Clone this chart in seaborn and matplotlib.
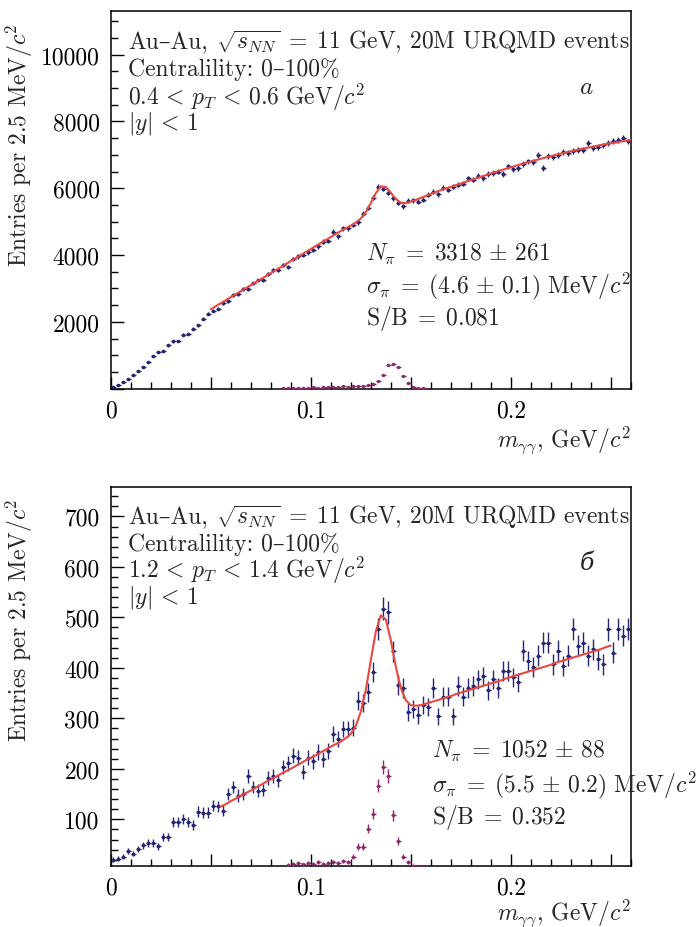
import numpy as np
import pandas as pd
import matplotlib
matplotlib.use("Agg")
import matplotlib.pyplot as plt
from matplotlib.ticker import MultipleLocator, FuncFormatter
from matplotlib.transforms import offset_copy
import seaborn as sns

# ---------------- data ----------------
BIN = 0.0025  # GeV per bin (2.5 MeV)

# panel a: 0.4 < pT < 0.6
top_counts = [
    40, 120, 200, 300, 420, 520, 640, 790, 980, 1100,
    1140, 1300, 1420, 1430, 1620, 1640, 1800, 1900, 2100, 2250,
    2330, 2400, 2560, 2620, 2800, 2830, 2990, 2980, 3150, 3240,
    3260, 3420, 3560, 3540, 3700, 3650, 3880, 3960, 4000, 4080,
    4150, 4260, 4400, 4420, 4700, 4560, 4800, 4800, 4900, 4980,
    5240, 5420, 5720, 6050, 5980, 5860, 5700, 5560, 5460, 5620,
    5640, 5600, 5650, 5800, 5900, 5820, 6020, 5950, 6050, 6100,
    6140, 6300, 6250, 6380, 6300, 6420, 6450, 6500, 6420, 6650,
    6580, 6600, 6720, 6800, 6780, 7000, 6600, 6960, 6920, 7000,
    7080, 7060, 7120, 7150, 7140, 7350, 7200, 7230, 7280, 7360,
    7420, 7450, 7500, 7400,
]
top_fit_start = 0.05
top_fit = [
    2380, 2470, 2560, 2650, 2740, 2830, 2920, 3010, 3100, 3190,
    3280, 3370, 3460, 3550, 3640, 3730, 3820, 3910, 4000, 4090,
    4180, 4270, 4360, 4450, 4540, 4630, 4720, 4805, 4885, 4973,
    5093, 5279, 5552, 5852, 6056, 6035, 5866, 5676, 5565, 5554,
    5595, 5650, 5710, 5770, 5830, 5885, 5940, 5990, 6040, 6090,
    6140, 6190, 6240, 6290, 6340, 6390, 6440, 6490, 6535, 6580,
    6625, 6670, 6715, 6760, 6800, 6840, 6880, 6920, 6960, 7000,
    7035, 7070, 7105, 7140, 7170, 7200, 7230, 7260, 7290, 7320,
    7345, 7370, 7395, 7420, 7445,
]
top_sig_first_bin = 34
top_signal = [
    28, 22, 35, 25, 30, 20, 40, 30, 50, 40,
    60, 50, 70, 60, 80, 70, 90, 120, 140, 240,
    420, 700, 740, 640, 380, 180, 60, 30, 10,
]

# panel b: 1.2 < pT < 1.4
bot_counts = [
    20, 22, 26, 37, 32, 41, 49, 53, 53, 47,
    65, 65, 95, 95, 101, 95, 89, 115, 113, 113,
    127, 126, 117, 150, 164, 147, 150, 186, 164, 157,
    158, 182, 186, 177, 204, 211, 226, 222, 194, 222,
    215, 233, 219, 235, 269, 259, 279, 279, 281, 335,
    331, 352, 392, 477, 517, 510, 433, 366, 360, 313,
    318, 306, 327, 323, 360, 304, 343, 343, 304, 364,
    343, 360, 364, 377, 383, 356, 377, 360, 394, 394,
    381, 371, 434, 414, 401, 424, 450, 450, 407, 434,
    404, 424, 477, 444, 450, 424, 437, 417, 407, 476,
    430, 477, 464, 477,
]
bot_fit_start = 0.055
bot_fit = [
    125, 130, 136, 141, 147, 152, 157, 163, 168, 174,
    179, 184, 190, 195, 200, 206, 211, 217, 222, 227,
    233, 238, 244, 249, 254, 261, 269, 285, 313, 356,
    415, 472, 504, 496, 455, 402, 360, 336, 326, 325,
    326, 329, 332, 335, 338, 341, 344, 348, 351, 354,
    357, 360, 363, 366, 369, 372, 375, 379, 382, 385,
    388, 391, 394, 397, 400, 403, 406, 410, 413, 416,
    419, 422, 425, 428, 431, 434, 437, 441, 444,
]
bot_sig_first_bin = 35
bot_signal = [
    10, 12, 14, 11, 13,
    12, 15, 12, 14, 16, 13, 18, 15,
    26, 46, 46, 81, 111, 166, 204, 186, 108, 57,
    26, 16, 8, 6, 5,
]

panels = [
    dict(counts=top_counts, fit=top_fit, fit_start=top_fit_start,
         sig=top_signal, sig_first=top_sig_first_bin,
         pt=r"$0.4\,<\,p_T\,<\,0.6\ \mathrm{GeV}/c^2$",
         stats=[r"$N_\pi\;=\;3318\,\pm\,261$",
                r"$\sigma_\pi\;=\;(4.6\,\pm\,0.1)\ \mathrm{MeV}/c^2$",
                r"$\mathrm{S/B}\;=\;0.081$"],
         letter="a", ylim=(0, 11300), ymaj=2000, ymin=500),
    dict(counts=bot_counts, fit=bot_fit, fit_start=bot_fit_start,
         sig=bot_signal, sig_first=bot_sig_first_bin,
         pt=r"$1.2\,<\,p_T\,<\,1.4\ \mathrm{GeV}/c^2$",
         stats=[r"$N_\pi\;=\;1052\,\pm\,88$",
                r"$\sigma_\pi\;=\;(5.5\,\pm\,0.2)\ \mathrm{MeV}/c^2$",
                r"$\mathrm{S/B}\;=\;0.352$"],
         letter="б", ylim=(8, 758), ymaj=100, ymin=20),
]

header_a = "Au–Au,"
header_b = r"$\sqrt{s_{NN}}\;=\;11$ GeV, 20M URQMD events"
central = "Centralility: 0–100%"
rap = r"$|y|\,<\,1$"
xlab = r"$m_{\gamma\gamma}$, GeV$/c^2$"
ylab = r"Entries per 2.5 MeV$/c^2$"

# ---------------- style ----------------
sns.set_theme(style="ticks")
plt.rcParams.update({
    "font.family": ["cmr10", "DejaVu Serif"],
    "mathtext.fontset": "cm",
    "axes.formatter.use_mathtext": True,
    "axes.unicode_minus": False,
    "axes.edgecolor": "black",
    "axes.linewidth": 1.1,
    "xtick.color": "black",
    "ytick.color": "black",
})

BLUE = "#26266e"
RED = "#e8483f"
MAG = "#8a2a6c"
FS = 17

fig = plt.figure(figsize=(6.97, 9.28), dpi=100)
fig.patch.set_facecolor("white")
renderer = fig.canvas.get_renderer()
rects = [[0.159, 0.580, 0.746, 0.407], [0.159, 0.066, 0.746, 0.408]]
stat_pos = [(0.490, [0.360, 0.2725, 0.188]), (0.617, [0.306, 0.216, 0.129])]
head_base = [0.902, 0.904]
head_y = [[0.847, 0.775, 0.704], [0.852, 0.783, 0.712]]
xlab_y = [-0.135, -0.124]
ylab_y = [0.648, 0.652]


def xfmt(v, p):
    k = round(v / 0.1)
    if abs(k * 0.1 - v) < 1e-9:
        return "0" if k == 0 else f"{k * 0.1:.1f}"
    return ""


for idx, (rect, P) in enumerate(zip(rects, panels)):
    ax = fig.add_axes(rect)
    ax.set_facecolor("white")
    n = len(P["counts"])
    centers = BIN / 2 + BIN * np.arange(n)
    counts = np.array(P["counts"], dtype=float)
    df = pd.DataFrame({"m": centers, "n": counts})

    # data points with error bars
    ax.errorbar(df["m"], df["n"], yerr=np.sqrt(df["n"]), xerr=BIN / 2,
                fmt="none", ecolor=BLUE, elinewidth=1.0, capsize=0, zorder=3)
    sns.scatterplot(data=df, x="m", y="n", ax=ax, color=BLUE, s=7,
                    marker="o", edgecolor=BLUE, linewidth=0, zorder=4, legend=False)

    # signal (background-subtracted) points
    sig = np.array(P["sig"], dtype=float)
    sig_m = BIN / 2 + BIN * (P["sig_first"] + np.arange(len(sig)))
    dfs = pd.DataFrame({"m": sig_m, "n": sig})
    ax.errorbar(dfs["m"], dfs["n"], yerr=np.sqrt(np.abs(dfs["n"])), xerr=BIN / 2,
                fmt="none", ecolor=MAG, elinewidth=1.0, capsize=0, zorder=3)
    sns.scatterplot(data=dfs, x="m", y="n", ax=ax, color=MAG, s=6,
                    marker="o", linewidth=0, zorder=4, legend=False)

    # fit curve
    fit = np.array(P["fit"], dtype=float)
    fit_m = P["fit_start"] + BIN * np.arange(len(fit))
    dff = pd.DataFrame({"m": fit_m, "n": fit})
    sns.lineplot(data=dff, x="m", y="n", ax=ax, color=RED, linewidth=1.5,
                 zorder=5, legend=False, sort=False)

    ax.set_xlim(0, 0.26)
    ax.set_ylim(*P["ylim"])
    ax.xaxis.set_major_locator(MultipleLocator(0.05))
    ax.xaxis.set_minor_locator(MultipleLocator(0.01))
    ax.xaxis.set_major_formatter(FuncFormatter(xfmt))
    ax.yaxis.set_major_locator(MultipleLocator(P["ymaj"]))
    ax.yaxis.set_minor_locator(MultipleLocator(P["ymin"]))
    ax.yaxis.set_major_formatter(FuncFormatter(lambda v, p: "" if v <= 0 else f"{int(round(v))}"))
    ax.tick_params(which="both", direction="in", top=False, right=False,
                   labelsize=FS, colors="black")
    ax.tick_params(axis="x", which="major", length=9, width=1.0, pad=8)
    ax.tick_params(axis="y", which="major", length=9, width=1.0, pad=8)
    ax.tick_params(which="minor", length=5, width=1.0)
    for s in ax.spines.values():
        s.set_visible(True)
        s.set_color("black")
        s.set_linewidth(1.1)

    ax.set_xlabel("")
    ax.set_ylabel(ylab, fontsize=FS)
    ax.yaxis.set_label_coords(-0.145, ylab_y[idx])
    ax.text(1.0, xlab_y[idx], xlab, transform=ax.transAxes, ha="right",
            va="center", fontsize=FS)

    # header first line, split so the en dash is drawn by a normal text font
    t1 = ax.text(0.033, head_base[idx], header_a, transform=ax.transAxes,
                 ha="left", va="baseline", fontsize=FS, zorder=6)
    w = t1.get_window_extent(renderer).width + FS * 0.33 * 100 / 72
    ax.text(0.033, head_base[idx], header_b,
            transform=offset_copy(ax.transAxes, fig=fig, x=w, y=0, units="dots"),
            ha="left", va="baseline", fontsize=FS, zorder=6)

    for line, yy in zip([central, P["pt"], rap], head_y[idx]):
        ax.text(0.033, yy, line, transform=ax.transAxes, ha="left",
                va="center", fontsize=FS, zorder=6)

    sx, sys_ = stat_pos[idx]
    for line, yy in zip(P["stats"], sys_):
        ax.text(sx, yy, line, transform=ax.transAxes, ha="left", va="center",
                fontsize=FS, clip_on=False, zorder=6)

    if P["letter"] == "a":
        ax.text(0.915, 0.80, r"$a$", transform=ax.transAxes, ha="center",
                va="center", fontsize=FS + 1)
    else:
        ax.text(0.915, 0.80, P["letter"], transform=ax.transAxes, ha="center",
                va="center", fontsize=FS, fontstyle="italic",
                family=["DejaVu Serif"])

fig.savefig("out.png", dpi=100, facecolor="white")
